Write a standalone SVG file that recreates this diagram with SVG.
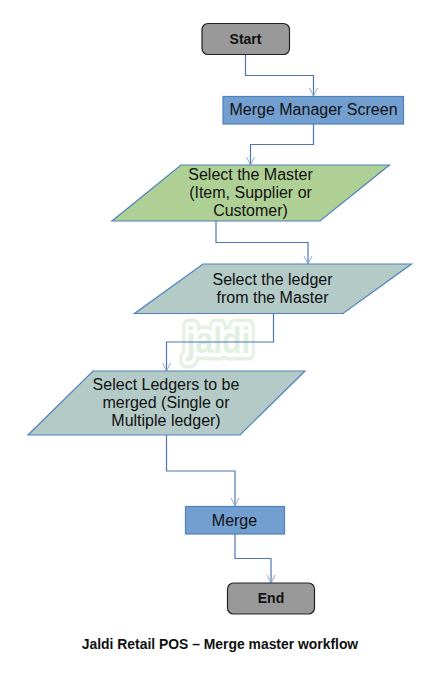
<svg xmlns="http://www.w3.org/2000/svg" width="444" height="684" viewBox="0 0 444 684">
<style>
text{font-family:"Liberation Sans",Arial,sans-serif;fill:#111;text-anchor:middle}
.t{font-size:16px}
.b{font-size:14px;font-weight:bold}
.term{fill:#999;stroke:#222;stroke-width:1.2}
.proc{fill:#729fcf;stroke:#4f81bd;stroke-width:1.2}
.para{stroke:#4f81bd;stroke-width:1.2}
.c{fill:none;stroke:#4f76b0;stroke-width:1.2}
.a{fill:none;stroke:#8eabd6;stroke-width:1}
.w{font-size:36px;font-weight:bold;stroke-linejoin:round}
</style>
<rect width="444" height="684" fill="#fff"/>
<g id="watermark">
<text class="w" x="218.500" y="353" textLength="64" lengthAdjust="spacingAndGlyphs" style="fill:#e6f1e6;stroke:#e6f1e6;stroke-width:15">jaldi</text>
<text class="w" x="218.500" y="353" textLength="64" lengthAdjust="spacingAndGlyphs" style="fill:#fff;stroke:#fff;stroke-width:8">jaldi</text>
<text class="w" x="218.500" y="353" textLength="64" lengthAdjust="spacingAndGlyphs" style="fill:#e2f0e2">jaldi</text>
</g>
<g id="connectors">
<path class="c" d="M245.500 55V75.500H313.500V96"/><path class="a" d="M309.500 88L313.500 96L317.500 88"/>
<path class="c" d="M313.500 124V144.500H250.500V165"/><path class="a" d="M246.500 157L250.500 165L254.500 157"/>
<path class="c" d="M216 221V242.500H308V264"/><path class="a" d="M304 256L308 264L312 256"/>
<path class="c" d="M273.500 313.500V342H166.500V371"/><path class="a" d="M162.500 363L166.500 371L170.500 363"/>
<path class="c" d="M166.500 435V471H235V506"/><path class="a" d="M231 498L235 506L239 498"/>
<path class="c" d="M235 534V558.500H271V583"/><path class="a" d="M267 575L271 583L275 575"/>
</g>
<g id="start"><rect class="term" x="202" y="23.500" width="87.500" height="31" rx="6"/><text class="b" x="245.500" y="44">Start</text></g>
<g id="merge-manager"><rect class="proc" x="223" y="96.500" width="180.500" height="27.500"/><text class="t" x="313.500" y="115">Merge Manager Screen</text></g>
<g id="select-master"><polygon class="para" fill="#afd095" points="181,165 389.500,165 320,221 112,221"/><text class="t" x="250.500" y="180">Select the Master</text><text class="t" x="250.500" y="198">(Item, Supplier or</text><text class="t" x="250.500" y="216">Customer)</text></g>
<g id="select-ledger"><polygon class="para" fill="#b3cac7" points="203,264 411.500,264 343,313.500 134.500,313.500"/><text class="t" x="272.500" y="285">Select the ledger</text><text class="t" x="272.500" y="303">from the Master</text></g>
<g id="select-ledgers"><polygon class="para" fill="#b3cac7" points="93,371 305,371 240,435 28,435"/><text class="t" x="166" y="390">Select Ledgers to be</text><text class="t" x="166" y="408">merged (Single or</text><text class="t" x="166" y="426">Multiple ledger)</text></g>
<g id="merge"><rect class="proc" x="185.500" y="506.500" width="99" height="27.500"/><text class="t" x="234.500" y="526">Merge</text></g>
<g id="end"><rect class="term" x="227.500" y="583" width="87" height="31" rx="6"/><text class="b" x="271" y="603">End</text></g>
<text class="b" x="220" y="649" style="font-size:13.900px">Jaldi Retail POS – Merge master workflow</text>
</svg>
